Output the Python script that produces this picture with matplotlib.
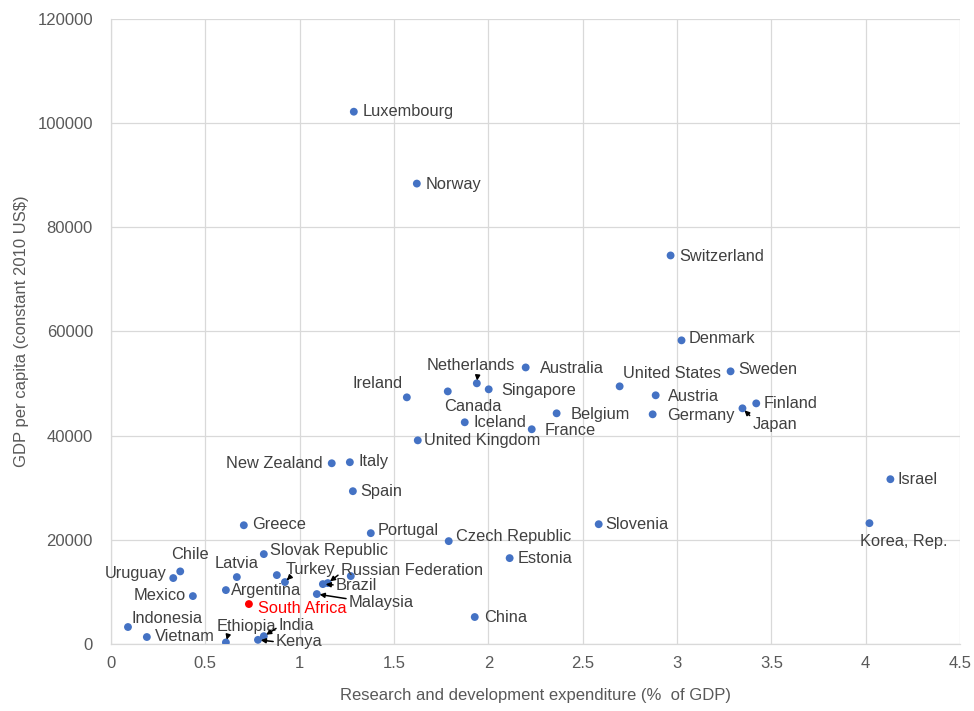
import matplotlib
matplotlib.use('Agg')
import matplotlib.pyplot as plt

plt.rcParams['font.family'] = ['Liberation Sans', 'DejaVu Sans']

# R&D expenditure (% of GDP) vs GDP per capita (constant 2010 US$)
countries = ['Luxembourg', 'Norway', 'Switzerland', 'Denmark', 'Sweden', 'United States',
             'Australia', 'Netherlands', 'Singapore', 'Canada', 'Ireland', 'Iceland',
             'France', 'Belgium', 'United Kingdom', 'Austria', 'Germany', 'Japan',
             'Finland', 'Italy', 'New Zealand', 'Spain', 'Israel', 'Korea, Rep.',
             'Slovenia', 'Estonia', 'Czech Republic', 'Portugal', 'Greece', 'China',
             'Slovak Republic', 'Chile', 'Uruguay', 'Latvia', 'Mexico', 'Argentina',
             'Turkey', 'Russian Federation', 'Brazil', 'Malaysia', 'South Africa',
             'Indonesia', 'Vietnam', 'Ethiopia', 'India', 'Kenya', '', '']
rd_pct = [1.287, 1.621, 2.966, 3.024, 3.284, 2.696,
          2.198, 1.939, 2.002, 1.785, 1.568, 1.875,
          2.23, 2.362, 1.626, 2.887, 2.871, 3.347,
          3.42, 1.266, 1.17, 1.282, 4.131, 4.02,
          2.585, 2.113, 1.79, 1.377, 0.704, 1.928,
          0.81, 0.367, 0.33, 0.667, 0.434, 0.609,
          0.922, 1.149, 1.123, 1.091, 0.731,
          0.09, 0.19, 0.609, 0.81, 0.779, 0.879, 1.271]
gdp_pc = [102200, 88400, 74600, 58300, 52350, 49470,
          53100, 50050, 48900, 48500, 47360, 42570,
          41230, 44290, 39100, 47750, 44100, 45250,
          46200, 34900, 34700, 29340, 31640, 23200,
          23000, 16490, 19750, 21280, 22800, 5180,
          17260, 13940, 12660, 12850, 9200, 10350,
          11890, 11700, 11500, 9590, 7670,
          3260, 1340, 300, 1500, 800, 13230, 13040]

highlight = 'South Africa'

# label placement: (dx px, dy px, ha, arrow relpos or None)
label_pos = {
    'Luxembourg': (9, 0, 'left', None), 'Norway': (9, -1, 'left', None),
    'Switzerland': (9, -1, 'left', None), 'Denmark': (7, 2, 'left', None),
    'Sweden': (8, 2, 'left', None), 'United States': (3, 13, 'left', None),
    'Australia': (14, -1, 'left', None), 'Netherlands': (-6, 18, 'center', (0.58, 0)),
    'Singapore': (13, -1, 'left', None), 'Canada': (-4, -15, 'left', None),
    'Ireland': (-4, 14, 'right', None), 'Iceland': (9, 0, 'left', None),
    'France': (13, -1, 'left', None), 'Belgium': (14, -1, 'left', None),
    'United Kingdom': (6, 0, 'left', None), 'Austria': (12, -1, 'left', None),
    'Germany': (14, -1, 'left', None), 'Japan': (10, -16, 'left', (0, 0.9)),
    'Finland': (7, 0, 'left', None), 'Italy': (9, 1, 'left', None),
    'New Zealand': (-9, 0, 'right', None), 'Spain': (7, 0, 'left', None),
    'Israel': (7, 0, 'left', None), 'Korea, Rep.': (-9, -18, 'left', None),
    'Slovenia': (7, 0, 'left', None), 'Estonia': (8, 0, 'left', None),
    'Czech Republic': (7, 5, 'left', None), 'Portugal': (7, 3, 'left', None),
    'Greece': (8, 1, 'left', None), 'China': (9, 0, 'left', None),
    'Slovak Republic': (6, 4, 'left', None), 'Chile': (-9, 17, 'left', None),
    'Uruguay': (-7, 5, 'right', None), 'Latvia': (-22, 14, 'left', None),
    'Mexico': (-7, 1, 'right', None), 'Argentina': (5, 0, 'left', None),
    'Turkey': (1, 13, 'left', (0.12, 0.1)), 'Russian Federation': (13, 13, 'left', (0, 0.3)),
    'Brazil': (13, -1, 'left', (0, 0.5)), 'Malaysia': (32, -8, 'left', (0, 0.7)),
    'South Africa': (9, -4, 'left', None), 'Indonesia': (4, 9, 'left', None),
    'Vietnam': (8, 1, 'left', None), 'Ethiopia': (-9, 16, 'left', (0.2, 0.1)),
    'India': (15, 11, 'left', (0, 0.4)), 'Kenya': (18, -2, 'left', (0, 0.5)),
}

fig = plt.figure(figsize=(9.74, 7.11), dpi=100)
ax = fig.add_axes([111 / 974, 1 - 644 / 711, 849 / 974, 625 / 711])

colors = ['#FF0000' if c == highlight else '#4472C4' for c in countries]
ax.scatter(rd_pct, gdp_pc, s=32, c=colors, zorder=3, linewidths=0)

for name, x, y in zip(countries, rd_pct, gdp_pc):
    if not name:
        continue
    dx, dy, ha, relpos = label_pos[name]
    col = '#FF0000' if name == highlight else '#404040'
    kw = {}
    if relpos is not None:
        kw['arrowprops'] = dict(arrowstyle='-|>', color='black', lw=1.1,
                                mutation_scale=7, shrinkA=0, shrinkB=2,
                                relpos=relpos)
    ax.annotate(name, (x, y), xytext=(dx, dy), textcoords='offset pixels',
                ha=ha, va='center', fontsize=11.8, color=col, zorder=4, **kw)

ax.set_xlim(0, 4.5)
ax.set_ylim(0, 120000)
ax.set_xticks([0, 0.5, 1, 1.5, 2, 2.5, 3, 3.5, 4, 4.5])
ax.set_xticklabels(['0', '0.5', '1', '1.5', '2', '2.5', '3', '3.5', '4', '4.5'])
ax.set_yticks(range(0, 120001, 20000))

ax.grid(True, color='#D9D9D9', lw=0.9, zorder=0)
ax.set_axisbelow(True)
for side in ['top', 'right']:
    ax.spines[side].set_visible(False)
for side in ['left', 'bottom']:
    ax.spines[side].set_color('#D9D9D9')
    ax.spines[side].set_linewidth(0.9)
ax.tick_params(length=0, labelsize=12, labelcolor='#595959')
ax.tick_params(axis='y', pad=13)
ax.tick_params(axis='x', pad=9)

ax.set_xlabel('Research and development expenditure (%  of GDP)', fontsize=12,
              color='#595959', labelpad=12)
ax.set_ylabel('GDP per capita (constant 2010 US$)', fontsize=12,
              color='#595959', labelpad=6)

fig.savefig('out.png', dpi=100)
